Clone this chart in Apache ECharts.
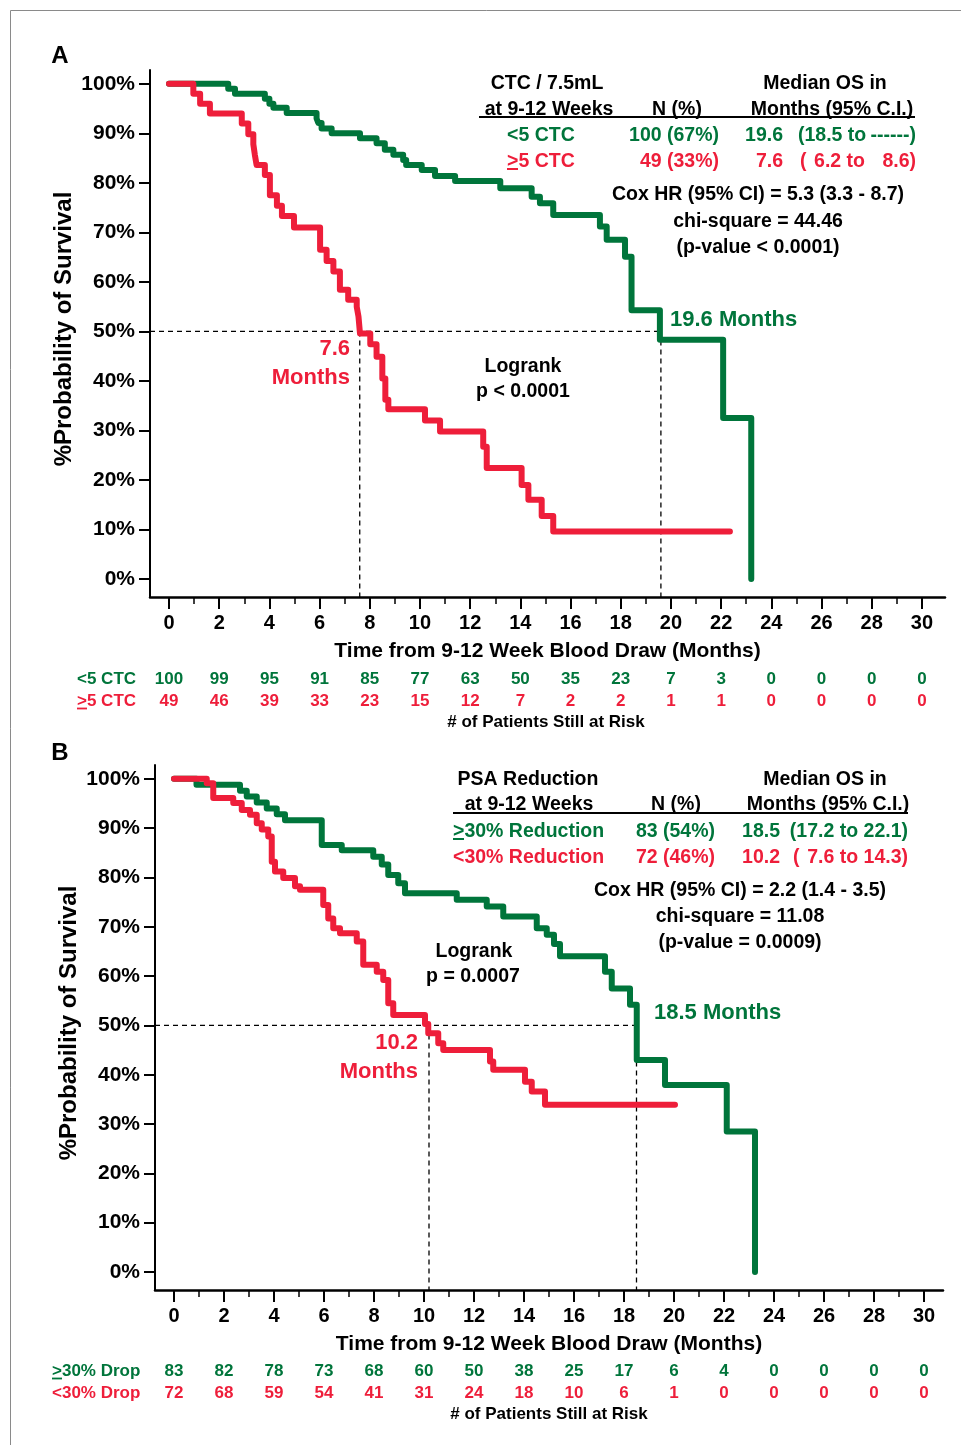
<!DOCTYPE html>
<html>
<head>
<meta charset="utf-8">
<script src="https://cdn.jsdelivr.net/npm/echarts@6/dist/echarts.min.js"></script>
<style>html,body{margin:0;padding:0;background:#fff}#c{width:961px;height:1445px}</style>
</head>
<body>
<div id="c"></div>
<script>
// ---------- data ----------
const xTickMonths = [0,2,4,6,8,10,12,14,16,18,20,22,24,26,28,30];
const xMinorMonths = [1,3,5,7,9,11,13,15,17,19,21,23,25,27,29];
const yTickPct = [0,10,20,30,40,50,60,70,80,90,100];

// Panel A: CTC / 7.5mL
const survA_lt5 = [[0,100],[2.36,99],[2.63,98],[3.82,97],[4.0,96],[4.16,95.2],[4.69,94.1],[5.88,93],[5.95,92.1],[6.08,91.0],[6.48,90.0],[7.61,89.0],[8.27,88.0],[8.6,86.7],[8.94,85.7],[9.33,84.6],[9.45,83.6],[10.07,82.6],[10.6,81.4],[11.4,80.4],[13.2,78.9],[14.45,77.2],[14.78,75.9],[15.31,73.5],[17.17,71.2],[17.44,68.5],[18.17,65.1],[18.43,54.3],[19.56,48.3],[22.08,32.5],[23.2,0]];
const survA_ge5 = [[0,100],[0.97,98],[1.24,96],[1.63,94],[2.9,92],[3.16,89.8],[3.36,87.8],[3.42,85.7],[3.49,83.6],[3.82,81.6],[4.02,77.5],[4.3,75.4],[4.5,73.3],[4.98,71.0],[6.02,66.5],[6.28,64.2],[6.55,62.1],[6.81,58.4],[7.14,56.4],[7.48,55.0],[7.55,53],[7.61,49.6],[8.02,47.4],[8.27,44.9],[8.5,40.5],[8.62,36.2],[8.74,34.3],[10.2,32.0],[10.8,29.8],[12.52,26.7],[12.66,22.4],[14.05,19.0],[14.32,16.0],[14.85,12.7],[15.31,9.6],[22.35,9.6]];
const medianA = [7.6, 19.6];
const atRiskA_lt5 = [100,99,95,91,85,77,63,50,35,23,7,3,0,0,0,0];
const atRiskA_ge5 = [49,46,39,33,23,15,12,7,2,2,1,1,0,0,0,0];

// Panel B: PSA reduction
const survB_ge30 = [[0,100],[0.9,98.8],[2.64,97.6],[2.91,96.4],[3.31,95.2],[3.71,94.0],[4.11,92.8],[4.44,91.6],[5.91,86.6],[6.71,85.5],[7.97,84.2],[8.31,82.6],[8.57,80.5],[8.97,78.8],[9.24,76.8],[11.31,75.5],[12.51,74.1],[13.17,72.1],[14.51,69.7],[14.91,68.4],[15.2,66.5],[15.44,64.0],[17.24,60.9],[17.51,57.5],[18.24,54.2],[18.51,43.0],[19.64,37.9],[22.11,28.5],[23.24,0]];
const survB_lt30 = [[0,100],[1.31,99.1],[1.57,96.1],[2.37,95.1],[2.71,93.7],[3.04,92.7],[3.31,91.0],[3.51,89.7],[3.77,88.3],[3.91,83.2],[4.04,81.2],[4.37,79.9],[4.84,78.2],[5.04,77.5],[5.97,74.4],[6.17,71.7],[6.37,69.7],[6.64,68.7],[7.31,67.0],[7.57,62.3],[8.11,60.9],[8.37,59.2],[8.57,54.5],[8.77,52.1],[10.04,50.3],[10.17,48.4],[10.57,46.4],[10.77,45.0],[12.64,42.7],[12.77,41.0],[14.04,38.6],[14.31,36.6],[14.84,33.9],[20.04,33.9]];
const medianB = [10.2, 18.5];
const atRiskB_ge30 = [83,82,78,73,68,60,50,38,25,17,6,4,0,0,0,0];
const atRiskB_lt30 = [72,68,59,54,41,31,24,18,10,6,1,0,0,0,0,0];

// ---------- style ----------
const GREEN = '#00753b';
const RED = '#ee1e3a';
const FF = '"Liberation Sans", Arial, sans-serif';
const DY = 1.5; // baseline nudge for text

const axA = {xmin:-0.757, xmax:30.92, ymin:-3.64, ymax:102.8};
const axB = {xmin:-0.76, xmax:30.76, ymin:-3.65, ymax:102.8};

function xAxes(grid, ax, riskTop, riskBot) {
  const base = {type:'value', gridIndex:grid, min:ax.xmin, max:ax.xmax, position:'bottom', splitLine:{show:false}};
  return [
    Object.assign({}, base, {
      axisLine:{show:true, onZero:false, lineStyle:{color:'#000', width:2.5}},
      axisTick:{show:true, customValues:xTickMonths, length:12, lineStyle:{color:'#000', width:2}},
      axisLabel:{show:true, customValues:xTickMonths, margin:16, color:'#000', fontSize:20, fontWeight:'bold', fontFamily:FF},
      name:'Time from 9-12 Week Blood Draw (Months)', nameLocation:'middle', nameGap:44,
      nameTextStyle:{color:'#000', fontSize:21, fontWeight:'bold', fontFamily:FF}
    }),
    Object.assign({}, base, {
      axisLine:{show:false, onZero:false},
      axisTick:{show:true, customValues:xMinorMonths, length:7, lineStyle:{color:'#000', width:1.5}},
      axisLabel:{show:false}
    }),
    Object.assign({}, base, {
      axisLine:{show:false, onZero:false}, axisTick:{show:false},
      axisLabel:{show:true, customValues:xTickMonths, margin:riskTop.margin, color:GREEN, fontSize:17, fontWeight:'bold', fontFamily:FF,
        formatter:(v)=>String(riskTop.data[Math.round(v/2)])}
    }),
    Object.assign({}, base, {
      axisLine:{show:false, onZero:false}, axisTick:{show:false},
      axisLabel:{show:true, customValues:xTickMonths, margin:riskBot.margin, color:RED, fontSize:17, fontWeight:'bold', fontFamily:FF,
        formatter:(v)=>String(riskBot.data[Math.round(v/2)])}
    })
  ];
}
function yAxis(grid, ax) {
  return {type:'value', gridIndex:grid, min:ax.ymin, max:ax.ymax, splitLine:{show:false},
    axisLine:{show:true, onZero:false, lineStyle:{color:'#000', width:2}},
    axisTick:{show:true, customValues:yTickPct, length:11, lineStyle:{color:'#000', width:2}},
    axisLabel:{show:true, customValues:yTickPct, margin:15, formatter:'{value}%', color:'#000', fontSize:21, fontWeight:'bold', fontFamily:FF,
      padding:[4,0,0,0]}
  };
}
function curve(xi, yi, data, color) {
  return {type:'line', xAxisIndex:xi, yAxisIndex:yi, data:data, step:'end', symbol:'none', silent:true,
    lineStyle:{color:color, width:6, cap:'round', join:'round'}, z:5};
}
function dashed(xi, yi, data) {
  return {type:'line', xAxisIndex:xi, yAxisIndex:yi, data:data, symbol:'none', silent:true,
    lineStyle:{color:'#000', width:1.3, type:[5,4]}, z:3};
}

function T(text, x, y, o) {
  o = o || {};
  return {type:'text', x:x + (o.rot ? DY : 0), y:y + (o.rot ? 0 : DY), rotation:o.rot||0, z:100, silent:true,
    style:{text:text, fill:o.color||'#000', font:'bold '+(o.size||19.5)+'px '+FF,
      align:o.align||'center', verticalAlign:'middle'}};
}
function L(x1,y1,x2,y2,color,w) {
  return {type:'line', z:100, silent:true, shape:{x1:x1,y1:y1,x2:x2,y2:y2}, style:{stroke:color||'#000', lineWidth:w||2}};
}

const graphic = [
  {type:'rect', z:0, silent:true, shape:{x:10.5, y:10.5, width:1000, height:1500}, style:{fill:'none', stroke:'#8a8a8a', lineWidth:1}},
  // Panel A
  T('A', 60, 55, {size:24}),
  T('%Probability of Survival', 63, 329, {size:24, rot:Math.PI/2}),
  T('CTC / 7.5mL', 547, 82), T('at 9-12 Weeks', 549, 108), T('N (%)', 677, 108),
  T('Median OS in', 825, 82), T('Months (95% C.I.)', 832, 108),
  L(479, 117, 915, 117, '#000', 2),
  T('<5 CTC', 507, 134, {align:'left', color:GREEN}),
  T('100 (67%)', 719, 134, {align:'right', color:GREEN}),
  T('19.6', 783, 134, {align:'right', color:GREEN}),
  T('(18.5 to', 798, 134, {align:'left', color:GREEN}),
  T('------)', 916, 134, {align:'right', color:GREEN}),
  T('>5 CTC', 507, 160, {align:'left', color:RED}),
  L(507, 169, 518, 169, RED, 2),
  T('49 (33%)', 719, 160, {align:'right', color:RED}),
  T('7.6', 783, 160, {align:'right', color:RED}),
  T('(', 800, 160, {align:'left', color:RED}),
  T('6.2 to', 865, 160, {align:'right', color:RED}),
  T('8.6)', 916, 160, {align:'right', color:RED}),
  T('Cox HR (95% CI) = 5.3 (3.3 - 8.7)', 758, 193),
  T('chi-square = 44.46', 758, 220),
  T('(p-value < 0.0001)', 758, 246),
  T('Logrank', 523, 365), T('p < 0.0001', 523, 390),
  T('19.6 Months', 670, 318, {align:'left', color:GREEN, size:22}),
  T('7.6', 350, 347, {align:'right', color:RED, size:22}),
  T('Months', 350, 376, {align:'right', color:RED, size:22}),
  T('<5 CTC', 77, 678, {align:'left', color:GREEN, size:17}),
  T('>5 CTC', 77, 700, {align:'left', color:RED, size:17}),
  L(77, 708.5, 87, 708.5, RED, 1.8),
  T('# of Patients Still at Risk', 546, 721, {size:17}),
  // Panel B
  T('B', 60, 752, {size:24}),
  T('%Probability of Survival', 68, 1023, {size:24, rot:Math.PI/2}),
  T('PSA Reduction', 528, 778), T('at 9-12 Weeks', 529, 803), T('N (%)', 676, 803),
  T('Median OS in', 825, 778), T('Months (95% C.I.)', 828, 803),
  L(453, 813, 908, 813, '#000', 2),
  T('>30% Reduction', 453, 830, {align:'left', color:GREEN}),
  L(453, 839, 464, 839, GREEN, 2),
  T('83 (54%)', 715, 830, {align:'right', color:GREEN}),
  T('18.5', 780, 830, {align:'right', color:GREEN}),
  T('(17.2 to 22.1)', 908, 830, {align:'right', color:GREEN}),
  T('<30% Reduction', 453, 856, {align:'left', color:RED}),
  T('72 (46%)', 715, 856, {align:'right', color:RED}),
  T('10.2', 780, 856, {align:'right', color:RED}),
  T('(', 793, 856, {align:'left', color:RED}),
  T('7.6 to 14.3)', 908, 856, {align:'right', color:RED}),
  T('Cox HR (95% CI) = 2.2 (1.4 - 3.5)', 740, 889),
  T('chi-square = 11.08', 740, 915),
  T('(p-value = 0.0009)', 740, 941),
  T('Logrank', 474, 950), T('p = 0.0007', 473, 975),
  T('18.5 Months', 654, 1011, {align:'left', color:GREEN, size:22}),
  T('10.2', 418, 1041, {align:'right', color:RED, size:22}),
  T('Months', 418, 1070, {align:'right', color:RED, size:22}),
  T('>30% Drop', 52, 1370, {align:'left', color:GREEN, size:17}),
  L(52, 1378.5, 62, 1378.5, GREEN, 1.8),
  T('<30% Drop', 52, 1392, {align:'left', color:RED, size:17}),
  T('# of Patients Still at Risk', 549, 1413, {size:17})
];

const chart = echarts.init(document.getElementById('c'), null, {renderer:'canvas'});
chart.setOption({
  animation:false,
  backgroundColor:'#fff',
  grid:[{left:150, top:70, width:795, height:527}, {left:155, top:765, width:788, height:525}],
  xAxis: [].concat(
    xAxes(0, axA, {data:atRiskA_lt5, margin:74}, {data:atRiskA_ge5, margin:96}),
    xAxes(1, axB, {data:atRiskB_ge30, margin:73}, {data:atRiskB_lt30, margin:95})
  ),
  yAxis:[yAxis(0, axA), yAxis(1, axB)],
  series:[
    dashed(0,0,[[axA.xmin,50],[medianA[1],50]]),
    dashed(0,0,[[medianA[0],50],[medianA[0],axA.ymin]]),
    dashed(0,0,[[medianA[1],50],[medianA[1],axA.ymin]]),
    curve(0,0,survA_lt5,GREEN),
    curve(0,0,survA_ge5,RED),
    dashed(4,1,[[axB.xmin,50],[medianB[1],50]]),
    dashed(4,1,[[medianB[0],50],[medianB[0],axB.ymin]]),
    dashed(4,1,[[medianB[1],50],[medianB[1],axB.ymin]]),
    curve(4,1,survB_ge30,GREEN),
    curve(4,1,survB_lt30,RED)
  ],
  graphic: graphic
});
</script>
</body>
</html>
